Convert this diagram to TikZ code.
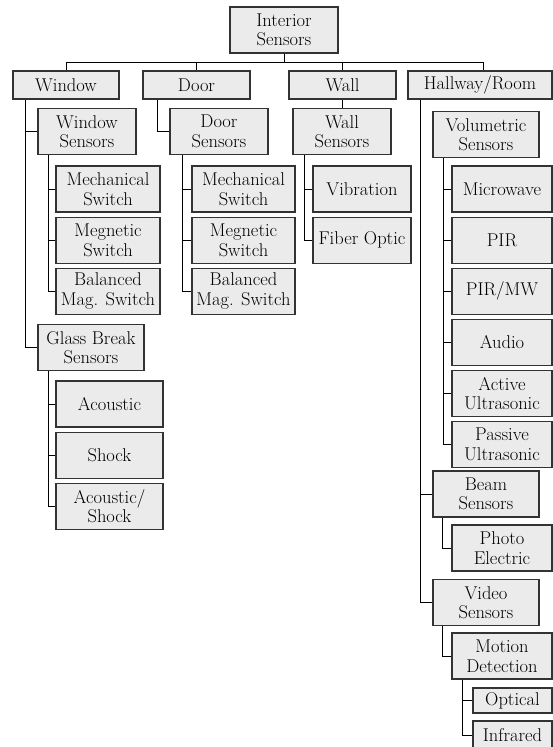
\documentclass[tikz,border=0pt]{standalone}
\usepackage{tikz}
\usetikzlibrary{positioning}
\tikzset{
  box/.style={draw=black!80, fill=black!8, line width=1.1pt, rectangle, align=center, inner sep=0pt, font=\fontsize{18.5}{19.5}\selectfont},
  big/.style={box, minimum height=46pt},
  flat/.style={box, minimum height=28pt},
  link/.style={black, line width=0.9pt}
}

\begin{document}
\begin{tikzpicture}[x=1pt, y=1pt, node distance=4pt]
  \useasboundingbox (0,0) rectangle (553,-747);

  % 第一层:根节点与四个区域
  \node (root) [big, minimum width=108pt] at (284,-30) {Interior\\Sensors};
  \node (win) [flat, minimum width=106pt] at (66,-85) {Window};
  \node (door) [flat, minimum width=107pt] at (196.5,-85) {Door};
  \node (wall) [flat, minimum width=107pt] at (342.5,-85) {Wall};
  \node (hall) [flat, minimum width=144pt] at (480,-85) {Hallway/Room};

  % 第二列:窗户
  \node (wsen) [big, minimum width=98pt] at (87,-131.5) {Window\\Sensors};
  \node (wmech) [big, minimum width=104pt] at (108,-189) {Mechanical\\Switch};
  \node (wmag) [big, minimum width=104pt, below=of wmech] {Megnetic\\Switch};
  \node (wbal) [big, minimum width=104pt, below=of wmag] {Balanced\\Mag. Switch};
  \node (glass) [big, minimum width=106pt] at (91,-347.5) {Glass Break\\Sensors};
  \node (acou) [big, minimum width=107pt] at (109.5,-404) {Acoustic};
  \node (shock) [big, minimum width=107pt, below=of acou] {Shock};
  \node (acsh) [big, minimum width=107pt, below=of shock] {Acoustic/\\Shock};

  % 第三列:门
  \node (dsen) [big, minimum width=98pt] at (219,-131.5) {Door\\Sensors};
  \node (dmech) [big, minimum width=103pt] at (243.5,-189) {Mechanical\\Switch};
  \node (dmag) [big, minimum width=103pt, below=of dmech] {Megnetic\\Switch};
  \node (dbal) [big, minimum width=103pt, below=of dmag] {Balanced\\Mag. Switch};

  % 第四列:墙
  \node (wlsen) [big, minimum width=98pt] at (342,-131.5) {Wall\\Sensors};
  \node (vib) [big, minimum width=98pt] at (362,-189) {Vibration};
  \node (fiber) [big, minimum width=98pt, below=of vib] {Fiber Optic};

  % 第五列:走廊/房间
  \node (vol) [big, minimum width=106pt] at (486,-134.5) {Volumetric\\Sensors};
  \node (micro) [big, minimum width=100pt] at (502,-189) {Microwave};
  \node (pir) [big, minimum width=100pt, below=of micro] {PIR};
  \node (pirmw) [big, minimum width=100pt, below=of pir] {PIR/MW};
  \node (audio) [big, minimum width=100pt, below=of pirmw] {Audio};
  \node (active) [big, minimum width=100pt, below=of audio] {Active\\Ultrasonic};
  \node (passive) [big, minimum width=100pt, below=of active] {Passive\\Ultrasonic};
  \node (beam) [big, minimum width=106pt] at (486,-494) {Beam\\Sensors};
  \node (photo) [big, minimum width=100pt] at (502,-548) {Photo\\Electric};
  \node (video) [big, minimum width=106pt] at (486,-602.5) {Video\\Sensors};
  \node (motion) [big, minimum width=100pt] at (502,-656) {Motion\\Detection};
  \node (optical) [box, minimum width=79pt, minimum height=25pt] at (512.5,-700.5) {Optical};
  \node (infra) [box, minimum width=79pt, minimum height=28pt] at (512.5,-735) {Infrared};

  % 连接线
  \draw[link] (root.south) -- ++(0,-9) -| (win.north);
  \draw[link] (root.south) -- ++(0,-9) -| (door.north);
  \draw[link] (root.south) -- ++(0,-9) -| (wall.north);
  \draw[link] (root.south) -- ++(0,-9) -| ([xshift=3pt]hall.north);

  \draw[link] ([xshift=13pt]win.south west) |- (wsen.west);
  \draw[link] ([xshift=13pt]win.south west) |- (glass.west);
  \draw[link] ([xshift=11pt]wsen.south west) |- (wmech.west);
  \draw[link] ([xshift=11pt]wsen.south west) |- (wmag.west);
  \draw[link] ([xshift=11pt]wsen.south west) |- (wbal.west);
  \draw[link] ([xshift=11pt]glass.south west) |- (acou.west);
  \draw[link] ([xshift=11pt]glass.south west) |- (shock.west);
  \draw[link] ([xshift=11pt]glass.south west) |- (acsh.west);

  \draw[link] ([xshift=15pt]door.south west) |- (dsen.west);
  \draw[link] ([xshift=13pt]dsen.south west) |- (dmech.west);
  \draw[link] ([xshift=13pt]dsen.south west) |- (dmag.west);
  \draw[link] ([xshift=13pt]dsen.south west) |- (dbal.west);

  \draw[link] (wall.south) -- (wall.south |- wlsen.north);
  \draw[link] ([xshift=12pt]wlsen.south west) |- (vib.west);
  \draw[link] ([xshift=12pt]wlsen.south west) |- (fiber.west);

  \draw[link] ([xshift=12.5pt]hall.south west) |- (beam.west);
  \draw[link] ([xshift=12.5pt]hall.south west) |- (video.west);
  \draw[link] ([xshift=11pt]vol.south west) |- (micro.west);
  \draw[link] ([xshift=11pt]vol.south west) |- (pir.west);
  \draw[link] ([xshift=11pt]vol.south west) |- (pirmw.west);
  \draw[link] ([xshift=11pt]vol.south west) |- (audio.west);
  \draw[link] ([xshift=11pt]vol.south west) |- (active.west);
  \draw[link] ([xshift=11pt]vol.south west) |- (passive.west);
  \draw[link] ([xshift=10pt]beam.south west) |- (photo.west);
  \draw[link] ([xshift=10pt]video.south west) |- (motion.west);
  \draw[link] ([xshift=11pt]motion.south west) |- (optical.west);
  \draw[link] ([xshift=11pt]motion.south west) |- (infra.west);
\end{tikzpicture}
\end{document}
